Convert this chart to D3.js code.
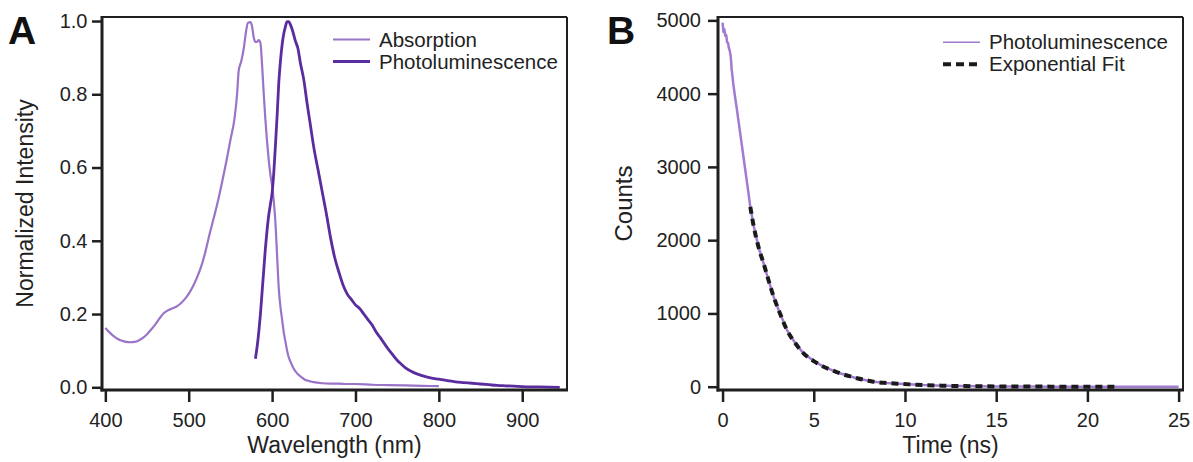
<!DOCTYPE html>
<html>
<head>
<meta charset="utf-8">
<script src="https://cdn.jsdelivr.net/npm/d3@7"></script>
<style>
  html, body { margin: 0; padding: 0; background: #fff; }
  svg { display: block; font-family: "Liberation Sans", Arial, Helvetica, sans-serif; }
</style>
</head>
<body>
<svg id="chart" width="1193" height="462"></svg>
<script>
// ---------- Panel A data ----------
const absWavelength = [400,405,410,415,420,425,430,435,440,445,450,455,460,465,470,475,480,485,490,495,500,505,510,515,520,525,530,535,540,545,550,555,558,560,563,566,569,571,574,576,578,580,582,584,586,588,590,592,594,596,598,600,602,604,606,608,610,612,614,616,618,620,622,625,630,635,640,645,650,660,670,680,690,700,720,740,760,780,800];
const absValues     = [0.162,0.150,0.140,0.132,0.127,0.124,0.123,0.124,0.128,0.135,0.145,0.158,0.172,0.188,0.202,0.210,0.215,0.220,0.228,0.240,0.255,0.275,0.300,0.330,0.370,0.418,0.462,0.508,0.560,0.615,0.675,0.735,0.800,0.865,0.890,0.925,0.975,0.995,0.997,0.985,0.955,0.943,0.943,0.948,0.940,0.880,0.800,0.730,0.670,0.620,0.580,0.550,0.510,0.450,0.360,0.270,0.220,0.185,0.150,0.125,0.100,0.082,0.070,0.055,0.038,0.028,0.020,0.017,0.014,0.011,0.010,0.010,0.009,0.009,0.007,0.006,0.005,0.004,0.003];

const plWavelength = [580,582,584,586,588,590,592,594,596,598,600,602,604,606,608,610,612,614,616,618,620,622,625,628,631,634,638,642,646,650,655,660,665,670,675,680,685,690,695,700,705,710,715,720,725,730,735,740,745,750,755,760,770,780,790,800,810,820,830,840,850,860,870,880,890,900,920,945];
const plValues     = [0.078,0.110,0.150,0.200,0.260,0.320,0.380,0.430,0.470,0.500,0.530,0.585,0.660,0.740,0.830,0.890,0.935,0.965,0.985,0.998,0.998,0.990,0.970,0.945,0.925,0.885,0.840,0.775,0.715,0.655,0.595,0.535,0.475,0.410,0.355,0.315,0.280,0.255,0.240,0.225,0.215,0.200,0.185,0.170,0.150,0.135,0.118,0.102,0.088,0.074,0.063,0.053,0.040,0.032,0.026,0.022,0.018,0.015,0.013,0.011,0.009,0.007,0.005,0.004,0.003,0.002,0.001,0.000];

const xTicksA = [400,500,600,700,800,900];
const yTicksA = [0.0,0.2,0.4,0.6,0.8,1.0];
const legendA = ["Absorption","Photoluminescence"];

// ---------- Panel B data ----------
const decayTime   = [0,0.05,0.1,0.15,0.2,0.25,0.3,0.35,0.4,0.45,0.5,0.6,0.7,0.8,0.9,1.0,1.1,1.2,1.3,1.4,1.52,1.7,2.0,2.25,2.5,2.8,3.1,3.53,4.0,4.44,5.0,5.54,6.0,6.44,7.0,7.37,8.0,8.28,9.0,9.92,11,12,13,14,15,16,17,18,20,22,25];
const decayCounts = [4970,4840,4880,4790,4800,4700,4690,4620,4580,4500,4330,4110,3930,3760,3580,3400,3220,3040,2860,2680,2455,2200,1880,1683,1470,1228,1030,773,590,455,350,273,225,183,140,115,82,68,50,37,22,14,9,6,4,3,2,1,0.5,0,0];

const fitTime   = [1.52,1.7,2.0,2.25,2.5,2.8,3.1,3.53,4.0,4.44,5.0,5.54,6.0,6.44,7.0,7.37,8.0,8.28,9.0,9.92,11,12,13,14,15,16,17,18,20,21.5];
const fitCounts = [2455,2200,1880,1683,1470,1228,1030,773,590,455,350,273,225,183,140,115,82,68,50,37,22,14,9,6,4,3,2,1,0.5,0];

const xTicksB = [0,5,10,15,20,25];
const yTicksB = [0,1000,2000,3000,4000,5000];
const legendB = ["Photoluminescence","Exponential Fit"];

// ---------- styles ----------
const colAbs = "#9a74c8";
const colPL  = "#5a2c9e";
const colPLB = "#a17bd0";
const colFit = "#1a1a1a";
const axisCol = "#1f1f1f";
const textCol = "#222";

const svg = d3.select("#chart");

function panel(cfg) {
  const g = svg.append("g");
  const x = d3.scaleLinear().domain(cfg.xDomain).range([cfg.left, cfg.right]);
  const y = d3.scaleLinear().domain(cfg.yDomain).range([cfg.bottom, cfg.top]);

  cfg.series.forEach(s => {
    const pts = s.xs.map((v, i) => [v, s.ys[i]]);
    g.append("path")
      .datum(pts)
      .attr("fill", "none")
      .attr("stroke", s.color)
      .attr("stroke-width", s.width)
      .attr("stroke-dasharray", s.dash || null)
      .attr("stroke-linejoin", "round")
      .attr("d", d3.line().x(d => x(d[0])).y(d => y(d[1])).curve(s.curve || d3.curveMonotoneX));
  });

  g.append("line").attr("x1", cfg.left).attr("x2", cfg.right).attr("y1", cfg.top).attr("y2", cfg.top)
    .attr("stroke", axisCol).attr("stroke-width", 2);
  g.append("line").attr("x1", cfg.right).attr("x2", cfg.right).attr("y1", cfg.top).attr("y2", cfg.bottom)
    .attr("stroke", axisCol).attr("stroke-width", 2);

  const ax = g.append("g").attr("transform", `translate(0,${cfg.bottom})`)
    .call(d3.axisBottom(x).tickValues(cfg.xTicks).tickSize(12).tickSizeOuter(0).tickPadding(11).tickFormat(cfg.xFormat));
  const ay = g.append("g").attr("transform", `translate(${cfg.left},0)`)
    .call(d3.axisLeft(y).tickValues(cfg.yTicks).tickSize(10).tickSizeOuter(0).tickPadding(cfg.yPad).tickFormat(cfg.yFormat));
  [ax, ay].forEach(a => {
    a.select(".domain").remove();
    a.selectAll(".tick line").attr("stroke", axisCol).attr("stroke-width", 2.5);
    a.selectAll(".tick text").attr("fill", textCol).style("font-size", "20px")
      .style("font-family", "'Liberation Sans', Arial, sans-serif");
  });
  g.append("line").attr("x1", cfg.left).attr("x2", cfg.left).attr("y1", cfg.top - 1).attr("y2", cfg.bottom + 1.5)
    .attr("stroke", axisCol).attr("stroke-width", 3);
  g.append("line").attr("x1", cfg.left - 1.5).attr("x2", cfg.right + 1).attr("y1", cfg.bottom).attr("y2", cfg.bottom)
    .attr("stroke", axisCol).attr("stroke-width", 3);

  g.append("text").attr("x", (cfg.left + cfg.right) / 2).attr("y", 453)
    .attr("text-anchor", "middle").attr("fill", textCol).style("font-size", "23px").text(cfg.xTitle);
  g.append("text").attr("transform", `translate(${cfg.yTitleX},${(cfg.top + cfg.bottom) / 2}) rotate(-90)`)
    .attr("text-anchor", "middle").attr("fill", textCol).style("font-size", cfg.yTitleSize).text(cfg.yTitle);

  g.append("text").attr("x", cfg.letterX).attr("y", 44).attr("fill", "#111")
    .style("font-size", "39px").style("font-weight", "bold").text(cfg.letter);

  cfg.legend.forEach((lab, i) => {
    const s = cfg.series[cfg.legendSeries[i]];
    const ly = cfg.legY + i * 22;
    g.append("line").attr("x1", cfg.legX).attr("x2", cfg.legX + 37).attr("y1", ly).attr("y2", ly)
      .attr("stroke", s.color).attr("stroke-width", s.legWidth || s.width)
      .attr("stroke-dasharray", s.legDash || null);
    g.append("text").attr("x", cfg.legX + 46).attr("y", ly + 7).attr("fill", textCol)
      .style("font-size", "20.5px").text(lab);
  });
}

panel({
  left: 102, right: 567, top: 17, bottom: 390,
  xDomain: [396, 953.7], yDomain: [-0.0074, 1.011],
  xTicks: xTicksA, yTicks: yTicksA,
  xFormat: d3.format("d"), yFormat: d3.format(".1f"), yPad: 4.5,
  xTitle: "Wavelength (nm)", yTitle: "Normalized Intensity", yTitleX: 33, yTitleSize: "23px",
  letter: "A", letterX: 8,
  series: [
    {xs: absWavelength, ys: absValues, color: colAbs, width: 2.2},
    {xs: plWavelength, ys: plValues, color: colPL, width: 2.8}
  ],
  legend: legendA, legendSeries: [0, 1], legX: 333, legY: 39.5
});

panel({
  left: 718, right: 1183, top: 17, bottom: 390,
  xDomain: [-0.25, 25.24], yDomain: [-45, 5046],
  xTicks: xTicksB, yTicks: yTicksB,
  xFormat: d3.format("d"), yFormat: d3.format("d"), yPad: 7,
  xTitle: "Time (ns)", yTitle: "Counts", yTitleX: 632, yTitleSize: "24px",
  letter: "B", letterX: 607,
  series: [
    {xs: decayTime, ys: decayCounts, color: colPLB, width: 2.5, legWidth: 1.6, curve: d3.curveLinear},
    {xs: fitTime, ys: fitCounts, color: colFit, width: 4, dash: "7,5", legDash: "8,5"}
  ],
  legend: legendB, legendSeries: [0, 1], legX: 943, legY: 42.3
});
</script>
</body>
</html>
